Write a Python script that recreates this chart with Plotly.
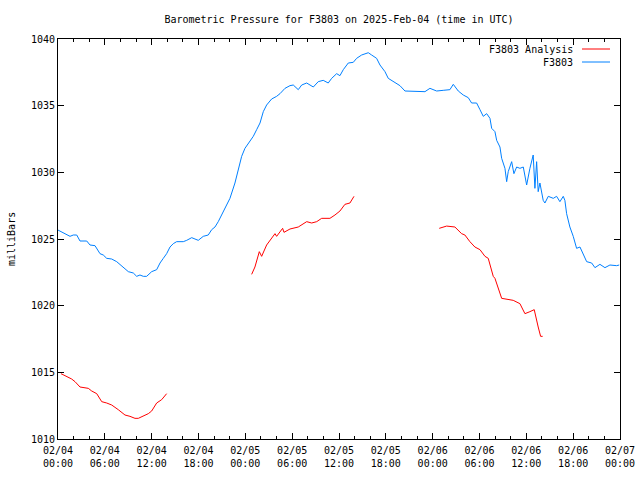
import pandas as pd
import plotly.graph_objects as go

# ---- data (hours after 2025-02-04 00:00 UTC, pressure in mbar) ----
blue_hours = [0.0, 0.26, 0.90, 1.54, 1.96, 2.40, 2.82, 3.68, 4.10, 4.74, 5.38, 5.80, 6.24, 6.88,
              7.52, 7.94, 8.36, 9.01, 9.65, 10.08, 10.50, 10.93, 11.36, 12.00, 12.64, 13.07, 13.49,
              13.92, 14.35, 14.77, 15.20, 16.05, 16.49, 17.13, 17.55, 17.97, 18.61, 19.25, 19.69,
              20.11, 20.53, 21.39, 22.03, 22.67, 23.10, 23.53, 23.95, 24.59, 25.02, 25.45, 25.88,
              26.30, 26.73, 27.37, 28.01, 28.44, 29.08, 29.72, 30.14, 30.78, 31.22, 31.86, 32.71,
              33.34, 33.98, 34.62, 35.06, 35.70, 36.12, 36.55, 37.19, 37.83, 38.26, 38.90, 39.33,
              39.75, 40.18, 40.82, 41.25, 41.89, 42.31, 42.95, 43.81, 44.45, 45.31, 46.15, 47.01,
              47.65, 48.51, 49.35, 50.21, 50.64, 51.28, 51.92, 52.56, 52.99, 53.63, 54.06, 54.48,
              54.92, 55.34, 55.56, 55.98, 56.20, 56.62, 56.84, 57.26, 57.48, 57.68, 58.12, 58.41,
              58.76, 59.18, 59.61, 60.04, 60.46, 60.88, 61.10, 61.32, 61.52, 61.74, 62.16, 62.38,
              62.81, 63.45, 63.88, 64.30, 64.73, 64.94, 65.16, 65.58, 66.01, 66.44, 66.87, 67.29,
              67.73, 68.37, 68.79, 69.43, 70.07, 70.71, 71.57, 71.90]
blue_values = [1025.67, 1025.6, 1025.4, 1025.2, 1025.3, 1025.3, 1024.85, 1024.85, 1024.55, 1024.5,
               1023.9, 1023.8, 1023.55, 1023.5, 1023.3, 1023.1, 1022.9, 1022.55, 1022.45, 1022.2,
               1022.3, 1022.2, 1022.2, 1022.55, 1022.7, 1023.2, 1023.55, 1023.9, 1024.4, 1024.65,
               1024.8, 1024.8, 1024.9, 1025.1, 1025.0, 1024.9, 1025.2, 1025.3, 1025.7, 1025.9,
               1026.3, 1027.3, 1028.05, 1029.2, 1030.2, 1031.2, 1031.8, 1032.3, 1032.7, 1033.2,
               1033.7, 1034.55, 1035.05, 1035.5, 1035.7, 1035.9, 1036.3, 1036.5, 1036.55, 1036.2,
               1036.55, 1036.7, 1036.4, 1036.8, 1036.9, 1036.7, 1037.05, 1037.4, 1037.25, 1037.7,
               1038.2, 1038.25, 1038.55, 1038.8, 1038.9, 1038.97, 1038.8, 1038.55, 1038.05, 1037.55,
               1037.05, 1036.8, 1036.5, 1036.1, 1036.1, 1036.1, 1036.05, 1036.3, 1036.1, 1036.15,
               1036.2, 1036.6, 1036.1, 1035.8, 1035.6, 1035.2, 1035.2, 1034.7, 1034.2, 1034.4,
               1034.05, 1033.3, 1033.05, 1032.4, 1031.9, 1031.05, 1030.3, 1029.3, 1030.05, 1030.8,
               1029.9, 1030.4, 1030.3, 1030.4, 1029.05, 1030.3, 1031.3, 1028.8, 1030.8, 1028.55,
               1029.2, 1027.9, 1027.7, 1028.2, 1028.05, 1028.2, 1027.8, 1028.2, 1027.9, 1026.9,
               1025.9, 1025.2, 1024.3, 1024.4, 1023.9, 1023.3, 1023.2, 1022.85, 1023.1, 1022.85,
               1023.05, 1023.0, 1023.05]

red_hours_1 = [0.38, 1.11, 1.75, 2.18, 2.82, 3.88, 4.32, 4.96, 5.60, 6.24, 6.88, 7.72, 8.58, 9.22,
               9.86, 10.29, 10.93, 11.57, 12.00, 12.64, 13.28, 13.92]
red_values_1 = [1014.9, 1014.7, 1014.5, 1014.3, 1013.9, 1013.8, 1013.6, 1013.4, 1012.8, 1012.7,
                1012.55, 1012.2, 1011.8, 1011.7, 1011.55, 1011.55, 1011.7, 1011.9, 1012.1, 1012.7,
                1012.95, 1013.4]
red_hours_2 = [24.81, 25.23, 25.79, 26.09, 26.73, 27.37, 27.80, 28.01, 28.78, 28.95, 29.72, 30.78,
               31.86, 32.50, 33.14, 33.78, 34.84, 35.48, 36.12, 36.76, 37.40, 37.92]
red_values_2 = [1022.35, 1022.9, 1024.05, 1023.7, 1024.55, 1025.05, 1025.4, 1025.2, 1025.8, 1025.5,
                1025.75, 1025.9, 1026.3, 1026.2, 1026.3, 1026.55, 1026.55, 1026.8, 1027.1, 1027.6,
                1027.7, 1028.2]
red_hours_3 = [48.84, 49.79, 50.85, 51.71, 52.13, 52.77, 53.41, 54.06, 54.70, 55.12, 55.76, 55.98,
               56.84, 57.48, 58.32, 59.18, 59.82, 60.46, 61.01, 61.52, 61.83, 62.09]
red_values_3 = [1025.8, 1025.97, 1025.9, 1025.4, 1025.3, 1024.8, 1024.4, 1024.2, 1023.7, 1023.55,
                1022.2, 1022.05, 1020.55, 1020.5, 1020.4, 1020.15, 1019.4, 1019.55, 1019.7, 1018.4,
                1017.7, 1017.7]

base_time = pd.Timestamp("2025-02-04 00:00")
x_start = "2025-02-04 00:00"
x_end = "2025-02-07 00:00"


def to_times(hours):
    return [base_time + pd.to_timedelta(h, unit="h") for h in hours]


red_x = to_times(red_hours_1) + [None] + to_times(red_hours_2) + [None] + to_times(red_hours_3)
red_y = red_values_1 + [None] + red_values_2 + [None] + red_values_3

FONT = "DejaVu Sans Mono"
RED = "#ff0000"
BLUE = "#0080ff"

fig = go.Figure()
fig.add_trace(go.Scatter(x=to_times(blue_hours), y=blue_values, mode="lines",
                         line=dict(color=BLUE, width=1), name="F3803"))
fig.add_trace(go.Scatter(x=red_x, y=red_y, mode="lines", connectgaps=False,
                         line=dict(color=RED, width=1), name="F3803 Analysis"))

axis_common = dict(showline=True, linecolor="black", linewidth=1, mirror="ticks",
                   ticks="inside", tickcolor="black", showgrid=False, zeroline=False,
                   automargin=False,
                   tickfont=dict(family=FONT, size=10, color="black"))

fig.update_xaxes(type="date", range=[x_start, x_end], dtick=6 * 3600 * 1000,
                 tick0=x_start, tickformat="%m/%d<br>%H:%M", ticklen=6,
                 ticklabelstandoff=2,
                 minor=dict(dtick=2 * 3600 * 1000, ticks="inside", ticklen=3,
                            tickcolor="black", showgrid=False),
                 **axis_common)
fig.update_yaxes(range=[1010, 1040], dtick=5, ticklen=6, **axis_common)

W, H = 640, 480
L, R, T, B = 58, 20, 39, 41
pw, ph = W - L - R, H - T - B


def px(xp):
    return (xp - L) / pw


def py(yp):
    return 1 - (yp - T) / ph


annotations = [
    dict(text="milliBars", x=px(11), y=py(239), xref="paper", yref="paper",
         textangle=-90, showarrow=False, font=dict(family=FONT, size=10, color="black"),
         xanchor="center", yanchor="middle"),
    dict(text="F3803 Analysis", x=px(575), y=py(49), xref="paper", yref="paper",
         showarrow=False, font=dict(family=FONT, size=10, color="black"),
         xanchor="right", yanchor="middle"),
    dict(text="F3803", x=px(575), y=py(62), xref="paper", yref="paper",
         showarrow=False, font=dict(family=FONT, size=10, color="black"),
         xanchor="right", yanchor="middle"),
]
shapes = [
    dict(type="line", xref="paper", yref="paper", x0=px(582), x1=px(610), y0=py(49), y1=py(49),
         line=dict(color=RED, width=1)),
    dict(type="line", xref="paper", yref="paper", x0=px(582), x1=px(610), y0=py(62), y1=py(62),
         line=dict(color=BLUE, width=1)),
]

fig.update_layout(
    width=W, height=H,
    margin=dict(l=L, r=R, t=T, b=B, autoexpand=False),
    paper_bgcolor="white", plot_bgcolor="white",
    showlegend=False,
    title=dict(text="Barometric Pressure for F3803 on 2025-Feb-04 (time in UTC)",
               x=(L + pw / 2) / W, xanchor="center", y=1 - 19 / H, yanchor="middle",
               font=dict(family=FONT, size=10, color="black")),
    annotations=annotations, shapes=shapes,
)

fig.write_html("out.html")
